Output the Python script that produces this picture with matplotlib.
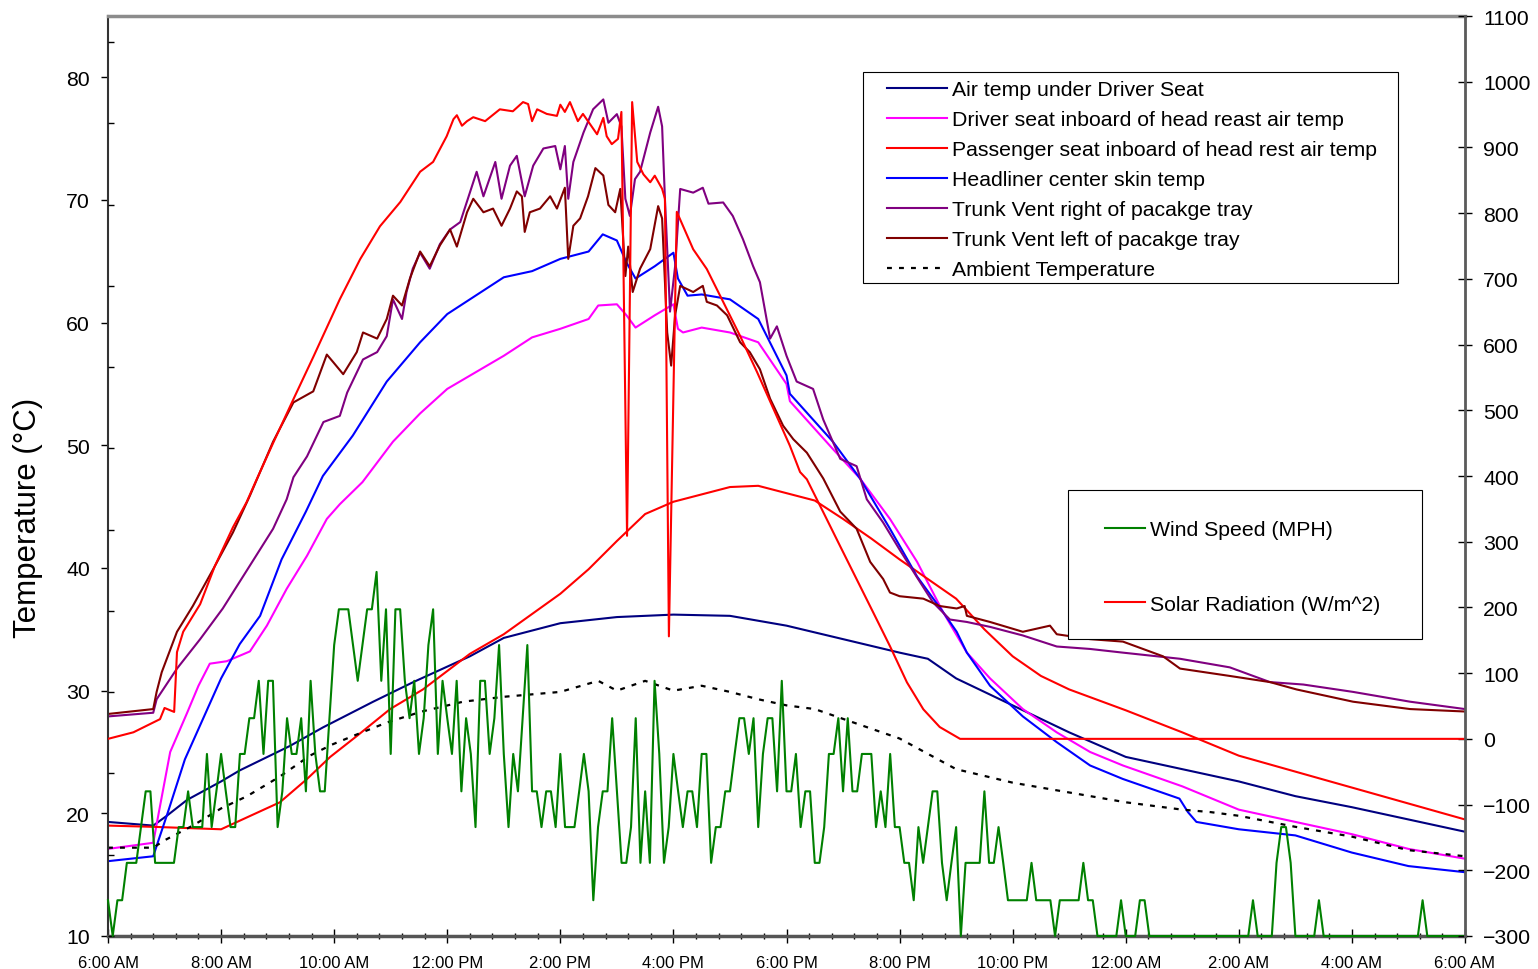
import matplotlib
matplotlib.use("Agg")
import matplotlib.pyplot as plt
import numpy as np
from matplotlib.patches import Rectangle
from matplotlib.ticker import MultipleLocator

plt.rcParams['font.family'] = ['Liberation Sans', 'DejaVu Sans']

W, H = 1538, 970

# time axis: hours after 6:00 AM, one full day
hour_ticks = list(range(0, 25, 2))
hour_labels = ["6:00 AM", "8:00 AM", "10:00 AM", "12:00 PM", "2:00 PM", "4:00 PM",
               "6:00 PM", "8:00 PM", "10:00 PM", "12:00 AM", "2:00 AM", "4:00 AM", "6:00 AM"]

# air temp under driver seat (deg C)
seat_air_h = [0, 0.8, 1.04, 1.4, 2, 2.33, 3.22, 3.8, 4.69, 5.4, 6.4, 7, 8, 9, 10, 11, 12, 13, 14,
              14.5, 15, 16, 17, 18, 19, 20, 21, 22, 23, 24]
seat_air_c = [19.3, 19.0, 19.8, 21.1, 22.6, 23.5, 25.5, 27.0, 29.1, 30.7, 32.8, 34.3, 35.5, 36.0, 36.2,
              36.1, 35.3, 34.2, 33.1, 32.6, 31.0, 28.8, 26.6, 24.6, 23.6, 22.6, 21.4, 20.5, 19.5, 18.5]

# driver seat inboard of head rest
driver_hr_h = [0, 0.8, 0.9, 1.1, 1.4, 1.6, 1.8, 2.1, 2.51, 2.81, 3.16, 3.52, 3.87, 4.1, 4.5, 5.04, 5.52,
               6.0, 7, 7.5, 8, 8.5, 8.67, 9, 9.17, 9.33, 9.67, 10, 10.08, 10.17, 10.5, 11, 11.5, 12, 12.06,
               12.82, 13.3, 13.83, 14.31, 14.77, 15.19, 15.6, 16.18, 16.78, 17.37, 17.95, 19, 20, 21, 22,
               23, 24]
driver_hr_c = [17.1, 17.6, 20.1, 25.0, 28.2, 30.4, 32.2, 32.4, 33.2, 35.3, 38.3, 41.0, 44.0, 45.2, 47.0,
               50.3, 52.6, 54.6, 57.3, 58.8, 59.5, 60.3, 61.4, 61.5, 60.6, 59.6, 60.6, 61.5, 59.5, 59.2,
               59.6, 59.2, 58.4, 55.0, 53.6, 49.7, 47.3, 44.0, 40.5, 36.4, 33.1, 31.0, 28.5, 26.6, 25.0,
               23.9, 22.2, 20.3, 19.3, 18.3, 17.1, 16.3]

# passenger seat inboard of head rest
pass_hr_h = [0, 0.8, 2, 2.33, 3.04, 3.52, 3.93, 4.4, 4.99, 5.57, 6.4, 7, 8, 8.5, 9, 9.5, 10, 10.5, 11,
             11.5, 12, 12.5, 13, 13.5, 14, 14.5, 15, 15.5, 16, 16.5, 17, 18, 19, 20, 21, 22, 23, 24]
pass_hr_c = [19.0, 18.9, 18.7, 19.4, 20.9, 22.8, 24.6, 26.3, 28.5, 30.1, 33.0, 34.6, 37.9, 39.9, 42.2,
             44.4, 45.4, 46.0, 46.6, 46.7, 46.1, 45.5, 44.0, 42.4, 40.7, 39.1, 37.5, 35.0, 32.8, 31.2,
             30.1, 28.4, 26.6, 24.7, 23.4, 22.1, 20.8, 19.5]

# headliner center skin
headliner_h = [0, 0.8, 0.9, 1.06, 1.36, 2, 2.33, 2.69, 3.07, 3.5, 3.8, 4.33, 4.93, 5.52, 6, 7, 7.5, 8,
               8.5, 8.75, 9, 9.17, 9.33, 9.67, 10, 10.08, 10.25, 10.5, 11, 11.5, 12, 12.06, 12.82, 13.3,
               13.83, 14.31, 14.77, 15.01, 15.19, 15.6, 16.18, 16.78, 17.37, 17.95, 18.95, 19.1, 19.25,
               20, 21, 22, 23, 24]
headliner_c = [16.1, 16.5, 17.9, 20.1, 24.4, 31.0, 33.8, 36.1, 40.7, 44.6, 47.5, 50.8, 55.2, 58.4, 60.7,
               63.7, 64.2, 65.2, 65.8, 67.2, 66.7, 64.9, 63.6, 64.6, 65.7, 63.6, 62.2, 62.3, 61.9, 60.3,
               55.7, 54.2, 50.3, 47.3, 43.2, 39.3, 36.4, 34.8, 33.1, 30.4, 27.9, 25.8, 23.9, 22.8, 21.2,
               20.1, 19.3, 18.7, 18.2, 16.8, 15.7, 15.2]

# trunk vent, right of package tray
trunk_r_h = [0, 0.8, 0.86, 1.22, 1.63, 2.03, 2.51, 2.92, 3.16, 3.28, 3.52, 3.81, 4.1, 4.23, 4.51, 4.76,
             4.93, 5.04, 5.2, 5.28, 5.39, 5.52, 5.69, 5.87, 6.05, 6.23, 6.4, 6.52, 6.64, 6.85, 6.96, 7.11,
             7.23, 7.37, 7.52, 7.7, 7.91, 8.0, 8.08, 8.14, 8.23, 8.41, 8.58, 8.76, 8.85, 9.0, 9.08, 9.15,
             9.23, 9.32, 9.41, 9.59, 9.73, 9.8, 9.85, 9.94, 10.03, 10.12, 10.35, 10.52, 10.62, 10.88,
             11.05, 11.23, 11.41, 11.53, 11.71, 11.83, 12.0, 12.18, 12.47, 12.65, 12.95, 13.24, 13.42,
             13.71, 14.0, 14.3, 14.59, 14.89, 15.19, 15.6, 16.18, 16.78, 17.37, 17.95, 18.96, 19.84,
             20.55, 21.14, 22.02, 23.03, 24]
trunk_r_c = [27.9, 28.2, 29.3, 31.8, 34.2, 36.7, 40.2, 43.2, 45.6, 47.4, 49.1, 51.9, 52.4, 54.3, 57.0,
             57.6, 58.9, 61.9, 60.3, 62.5, 64.4, 65.7, 64.4, 66.4, 67.6, 68.2, 70.6, 72.3, 70.3, 73.1,
             70.1, 72.8, 73.6, 70.3, 72.8, 74.2, 74.4, 72.5, 74.4, 70.1, 73.1, 75.5, 77.4, 78.2, 76.3,
             77.0, 76.0, 70.1, 68.7, 71.7, 72.3, 75.5, 77.6, 76.0, 70.1, 60.9, 64.6, 70.9, 70.6, 71.0,
             69.7, 69.8, 68.7, 66.8, 64.6, 63.3, 58.7, 59.7, 57.3, 55.2, 54.6, 52.1, 48.9, 48.3, 45.6,
             43.7, 41.5, 39.3, 37.2, 35.8, 35.6, 35.2, 34.5, 33.6, 33.4, 33.1, 32.6, 31.9, 30.7, 30.5,
             29.9, 29.1, 28.5]

# trunk vent, left of package tray
trunk_l_h = [0, 0.8, 0.86, 0.95, 1.22, 1.5, 1.86, 2.21, 2.51, 2.92, 3.28, 3.63, 3.87, 3.98, 4.16, 4.4,
             4.51, 4.76, 4.93, 5.04, 5.2, 5.34, 5.52, 5.69, 5.87, 6.05, 6.17, 6.35, 6.46, 6.64, 6.81, 6.96,
             7.11, 7.23, 7.32, 7.37, 7.46, 7.64, 7.82, 7.94, 8.08, 8.14, 8.23, 8.35, 8.49, 8.62, 8.76,
             8.85, 8.97, 9.06, 9.15, 9.2, 9.28, 9.41, 9.59, 9.73, 9.8, 9.89, 9.96, 10.03, 10.12, 10.35,
             10.52, 10.59, 10.77, 10.95, 11.18, 11.35, 11.53, 11.71, 11.94, 12.12, 12.36, 12.65, 12.95,
             13.24, 13.48, 13.71, 13.83, 14.0, 14.42, 14.71, 15.01, 15.15, 15.19, 15.6, 16.18, 16.66,
             16.78, 17.37, 17.95, 18.66, 18.96, 19.84, 20.55, 21.02, 22.02, 23.03, 24]
trunk_l_c = [28.1, 28.5, 29.9, 31.5, 34.8, 36.9, 39.9, 42.9, 45.9, 50.3, 53.5, 54.4, 57.4, 56.8, 55.8,
             57.6, 59.2, 58.7, 60.3, 62.2, 61.4, 63.6, 65.8, 64.6, 66.3, 67.6, 66.2, 69.0, 70.1, 69.0,
             69.3, 67.9, 69.3, 70.7, 70.3, 67.4, 69.0, 69.3, 70.3, 69.3, 71.0, 65.2, 67.9, 68.5, 70.3,
             72.6, 72.0, 69.6, 69.0, 70.9, 63.8, 66.2, 62.5, 64.4, 66.0, 69.5, 68.5, 59.2, 56.5, 60.6,
             63.0, 62.5, 63.0, 61.7, 61.4, 60.6, 58.4, 57.6, 56.2, 53.8, 51.6, 50.5, 49.4, 47.3, 44.6,
             43.2, 40.5, 39.1, 38.0, 37.7, 37.5, 36.9, 36.7, 36.9, 36.1, 35.6, 34.8, 35.3, 34.6, 34.2,
             34.0, 32.8, 31.8, 31.2, 30.7, 30.1, 29.1, 28.5, 28.3]

# ambient
ambient_h = [0, 0.8, 1.0, 1.5, 2, 2.46, 3.04, 3.57, 3.96, 4.33, 4.93, 5.55, 6.28, 7, 8, 8.67, 9, 9.5,
             10, 10.5, 11, 11.5, 12, 12.5, 13, 14, 15, 16, 17, 18, 19, 19.5, 20, 21, 22, 23, 24]
ambient_c = [17.2, 17.2, 17.8, 19.0, 20.4, 21.4, 23.0, 24.7, 25.6, 26.3, 27.4, 28.3, 29.1, 29.5, 29.9,
             30.8, 30.0, 30.8, 30.0, 30.4, 29.9, 29.3, 28.8, 28.5, 27.7, 26.1, 23.6, 22.5, 21.7, 20.9,
             20.3, 20.1, 19.8, 18.9, 18.1, 17.0, 16.5]

# wind speed, logged every 5 minutes (MPH)
wind_mph = [
    2.2, 0, 2.2, 2.2, 4.5, 4.5, 4.5, 6.7, 8.9, 8.9,
    4.5, 4.5, 4.5, 4.5, 4.5, 6.7, 6.7, 8.9, 6.7, 6.7,
    6.7, 11.2, 6.7, 8.9, 11.2, 8.9, 6.7, 6.7, 11.2, 11.2,
    13.4, 13.4, 15.7, 11.2, 15.7, 15.7, 6.7, 8.9, 13.4, 11.2,
    11.2, 13.4, 8.9, 15.7, 11.2, 8.9, 8.9, 13.4, 17.9, 20.1,
    20.1, 20.1, 17.9, 15.7, 17.9, 20.1, 20.1, 22.4, 15.7, 20.1,
    11.2, 20.1, 20.1, 15.7, 13.4, 15.7, 11.2, 13.4, 17.9, 20.1,
    11.2, 15.7, 13.4, 11.2, 15.7, 8.9, 13.4, 11.2, 6.7, 15.7,
    15.7, 11.2, 13.4, 17.9, 11.2, 6.7, 11.2, 8.9, 13.4, 17.9,
    8.9, 8.9, 6.7, 8.9, 8.9, 6.7, 11.2, 6.7, 6.7, 6.7,
    8.9, 11.2, 8.9, 2.2, 6.7, 8.9, 8.9, 13.4, 8.9, 4.5,
    4.5, 6.7, 13.4, 4.5, 8.9, 4.5, 15.7, 11.2, 4.5, 6.7,
    11.2, 8.9, 6.7, 8.9, 8.9, 6.7, 11.2, 11.2, 4.5, 6.7,
    6.7, 8.9, 8.9, 11.2, 13.4, 13.4, 11.2, 13.4, 6.7, 11.2,
    13.4, 13.4, 8.9, 15.7, 8.9, 8.9, 11.2, 6.7, 8.9, 8.9,
    4.5, 4.5, 6.7, 11.2, 11.2, 13.4, 8.9, 13.4, 8.9, 8.9,
    11.2, 11.2, 11.2, 6.7, 8.9, 6.7, 11.2, 6.7, 6.7, 4.5,
    4.5, 2.2, 6.7, 4.5, 6.7, 8.9, 8.9, 4.5, 2.2, 4.5,
    6.7, 0, 4.5, 4.5, 4.5, 4.5, 8.9, 4.5, 4.5, 6.7,
    4.5, 2.2, 2.2, 2.2, 2.2, 2.2, 4.5, 2.2, 2.2, 2.2,
    2.2, 0, 2.2, 2.2, 2.2, 2.2, 2.2, 4.5, 2.2, 2.2,
    0, 0, 0, 0, 0, 2.2, 0, 0, 0, 2.2,
    2.2, 0, 0, 0, 0, 0, 0, 0, 0, 0,
    0, 0, 0, 0, 0, 0, 0, 0, 0, 0,
    0, 0, 0, 2.2, 0, 0, 0, 0, 4.5, 6.7,
    6.7, 4.5, 0, 0, 0, 0, 0, 2.2, 0, 0,
    0, 0, 0, 0, 0, 0, 0, 0, 0, 0,
    0, 0, 0, 0, 0, 0, 0, 0, 0, 2.2,
    0, 0, 0, 0, 0, 0, 0, 0, 0,
]
wind_h = np.arange(len(wind_mph)) / 12.0

# solar radiation (W/m^2)
solar_h = [0, 0.45, 0.92, 1.0, 1.17, 1.22, 1.33, 1.63, 1.89, 2.21, 2.45, 2.63, 2.93, 3.28, 3.63, 4.1,
           4.46, 4.81, 5.17, 5.52, 5.75, 5.99, 6.11, 6.17, 6.26, 6.35, 6.46, 6.67, 6.93, 7.16, 7.34,
           7.43, 7.5, 7.59, 7.76, 7.94, 8.0, 8.08, 8.17, 8.31, 8.4, 8.65, 8.76, 8.82, 8.91, 9.02, 9.08,
           9.18, 9.27, 9.36, 9.47, 9.59, 9.67, 9.8, 9.85, 9.92, 10.06, 10.35, 10.59, 10.88, 11.18,
           11.48, 11.77, 12.06, 12.24, 12.36, 12.65, 12.95, 13.24, 13.53, 13.83, 14.13, 14.42, 14.71,
           15.07, 24]
solar_w = [0, 10, 30, 47, 41, 132, 163, 205, 263, 322, 360, 395, 452, 517, 581, 669, 730, 780, 817,
           863, 878, 917, 943, 949, 933, 940, 946, 940, 958, 955, 969, 966, 940, 958, 951, 948, 965,
           954, 969, 940, 951, 920, 945, 917, 905, 913, 954, 309, 969, 878, 859, 847, 857, 837, 822,
           156, 802, 745, 715, 665, 613, 558, 502, 446, 406, 395, 345, 293, 243, 193, 141, 86, 45, 18,
           0, 0]

fig = plt.figure(figsize=(W / 100, H / 100), dpi=100)
ax = fig.add_axes([108 / W, 33 / H, 1357 / W, 920 / H])
ax_wind = ax.twinx()
ax_sun = ax.twinx()

lw = 1.5
temp_lines = []
temp_lines += ax.plot(seat_air_h, seat_air_c, color='#000080', lw=lw, label='Air temp under Driver Seat')
temp_lines += ax.plot(driver_hr_h, driver_hr_c, color='#FF00FF', lw=lw,
                      label='Driver seat inboard of head reast air temp')
temp_lines += ax.plot(pass_hr_h, pass_hr_c, color='#FF0000', lw=lw,
                      label='Passenger seat inboard of head rest air temp')
temp_lines += ax.plot(headliner_h, headliner_c, color='#0000FF', lw=lw, label='Headliner center skin temp')
temp_lines += ax.plot(trunk_r_h, trunk_r_c, color='#800080', lw=lw, label='Trunk Vent right of pacakge tray')
temp_lines += ax.plot(trunk_l_h, trunk_l_c, color='#800000', lw=lw, label='Trunk Vent left of pacakge tray')
temp_lines += ax.plot(ambient_h, ambient_c, color='black', lw=1.6, linestyle=(0, (2.2, 3.2)),
                      label='Ambient Temperature')

wind_line, = ax_wind.plot(wind_h, wind_mph, color='#008000', lw=lw, label='Wind Speed (MPH)', clip_on=False)
sun_line, = ax_sun.plot(solar_h, solar_w, color='#FF0000', lw=lw, label='Solar Radiation (W/m^2)')

# left axis: temperature
ax.set_xlim(0, 24)
ax.set_ylim(10, 85)
ax.set_yticks(range(10, 81, 10))
ax.set_xticks(hour_ticks)
ax.set_xticklabels(hour_labels)
ax.xaxis.set_minor_locator(MultipleLocator(0.4))
ax.tick_params(axis='x', which='major', direction='inout', length=10, width=1, labelsize=12, pad=9)
ax.tick_params(axis='x', which='minor', direction='inout', length=5, width=1)
ax.tick_params(axis='y', direction='out', length=5, width=1, labelsize=15.3, pad=8)
ax.set_ylabel('Temperature (°C)', fontsize=22.5)
ax.yaxis.set_label_coords(-0.048, 0.456)
ax.spines['right'].set_visible(False)
ax.spines['top'].set_color('#8c8c8c')
ax.spines['top'].set_linewidth(2.5)
ax.spines['bottom'].set_color('#555555')
ax.spines['bottom'].set_linewidth(2.5)
ax.spines['left'].set_color('#333333')
ax.spines['left'].set_linewidth(1.5)

# wind scale sits on the left spine, ticks only
ax_wind.set_ylim(0, 56.6)
ax_wind.set_yticks(np.arange(0, 56, 5))
ax_wind.yaxis.set_ticks_position('left')
ax_wind.tick_params(axis='y', direction='in', length=4, width=1, labelleft=False, labelright=False)
for s in ax_wind.spines.values():
    s.set_visible(False)

# right axis: solar radiation
ax_sun.set_ylim(-300, 1100)
ax_sun.set_yticks(range(-300, 1101, 100))
ax_sun.tick_params(axis='y', direction='inout', length=10, width=1, labelsize=15.3, pad=8)
for side in ('left', 'top', 'bottom'):
    ax_sun.spines[side].set_visible(False)
ax_sun.spines['right'].set_color('#5a5a5a')
ax_sun.spines['right'].set_linewidth(2)

# legend boxes
fig.add_artist(Rectangle((863 / W, 1 - 284 / H), 535 / W, 211 / H, transform=fig.transFigure,
                         facecolor='white', edgecolor='black', lw=0.8, zorder=3))
fig.legend(handles=temp_lines, loc='upper left', bbox_to_anchor=(887 / W, 1 - 81 / H), frameon=False,
           fontsize=15.3, handlelength=2.82, handletextpad=0.25, labelspacing=0.52, borderpad=0,
           borderaxespad=0)

fig.add_artist(Rectangle((1068 / W, 1 - 640 / H), 354 / W, 149 / H, transform=fig.transFigure,
                         facecolor='white', edgecolor='black', lw=0.8, zorder=3))
fig.legend(handles=[wind_line, sun_line], loc='upper left', bbox_to_anchor=(1105 / W, 1 - 521 / H),
           frameon=False, fontsize=15.3, handlelength=1.88, handletextpad=0.25, labelspacing=2.62,
           borderpad=0, borderaxespad=0)

fig.savefig('out.png', dpi=100)
